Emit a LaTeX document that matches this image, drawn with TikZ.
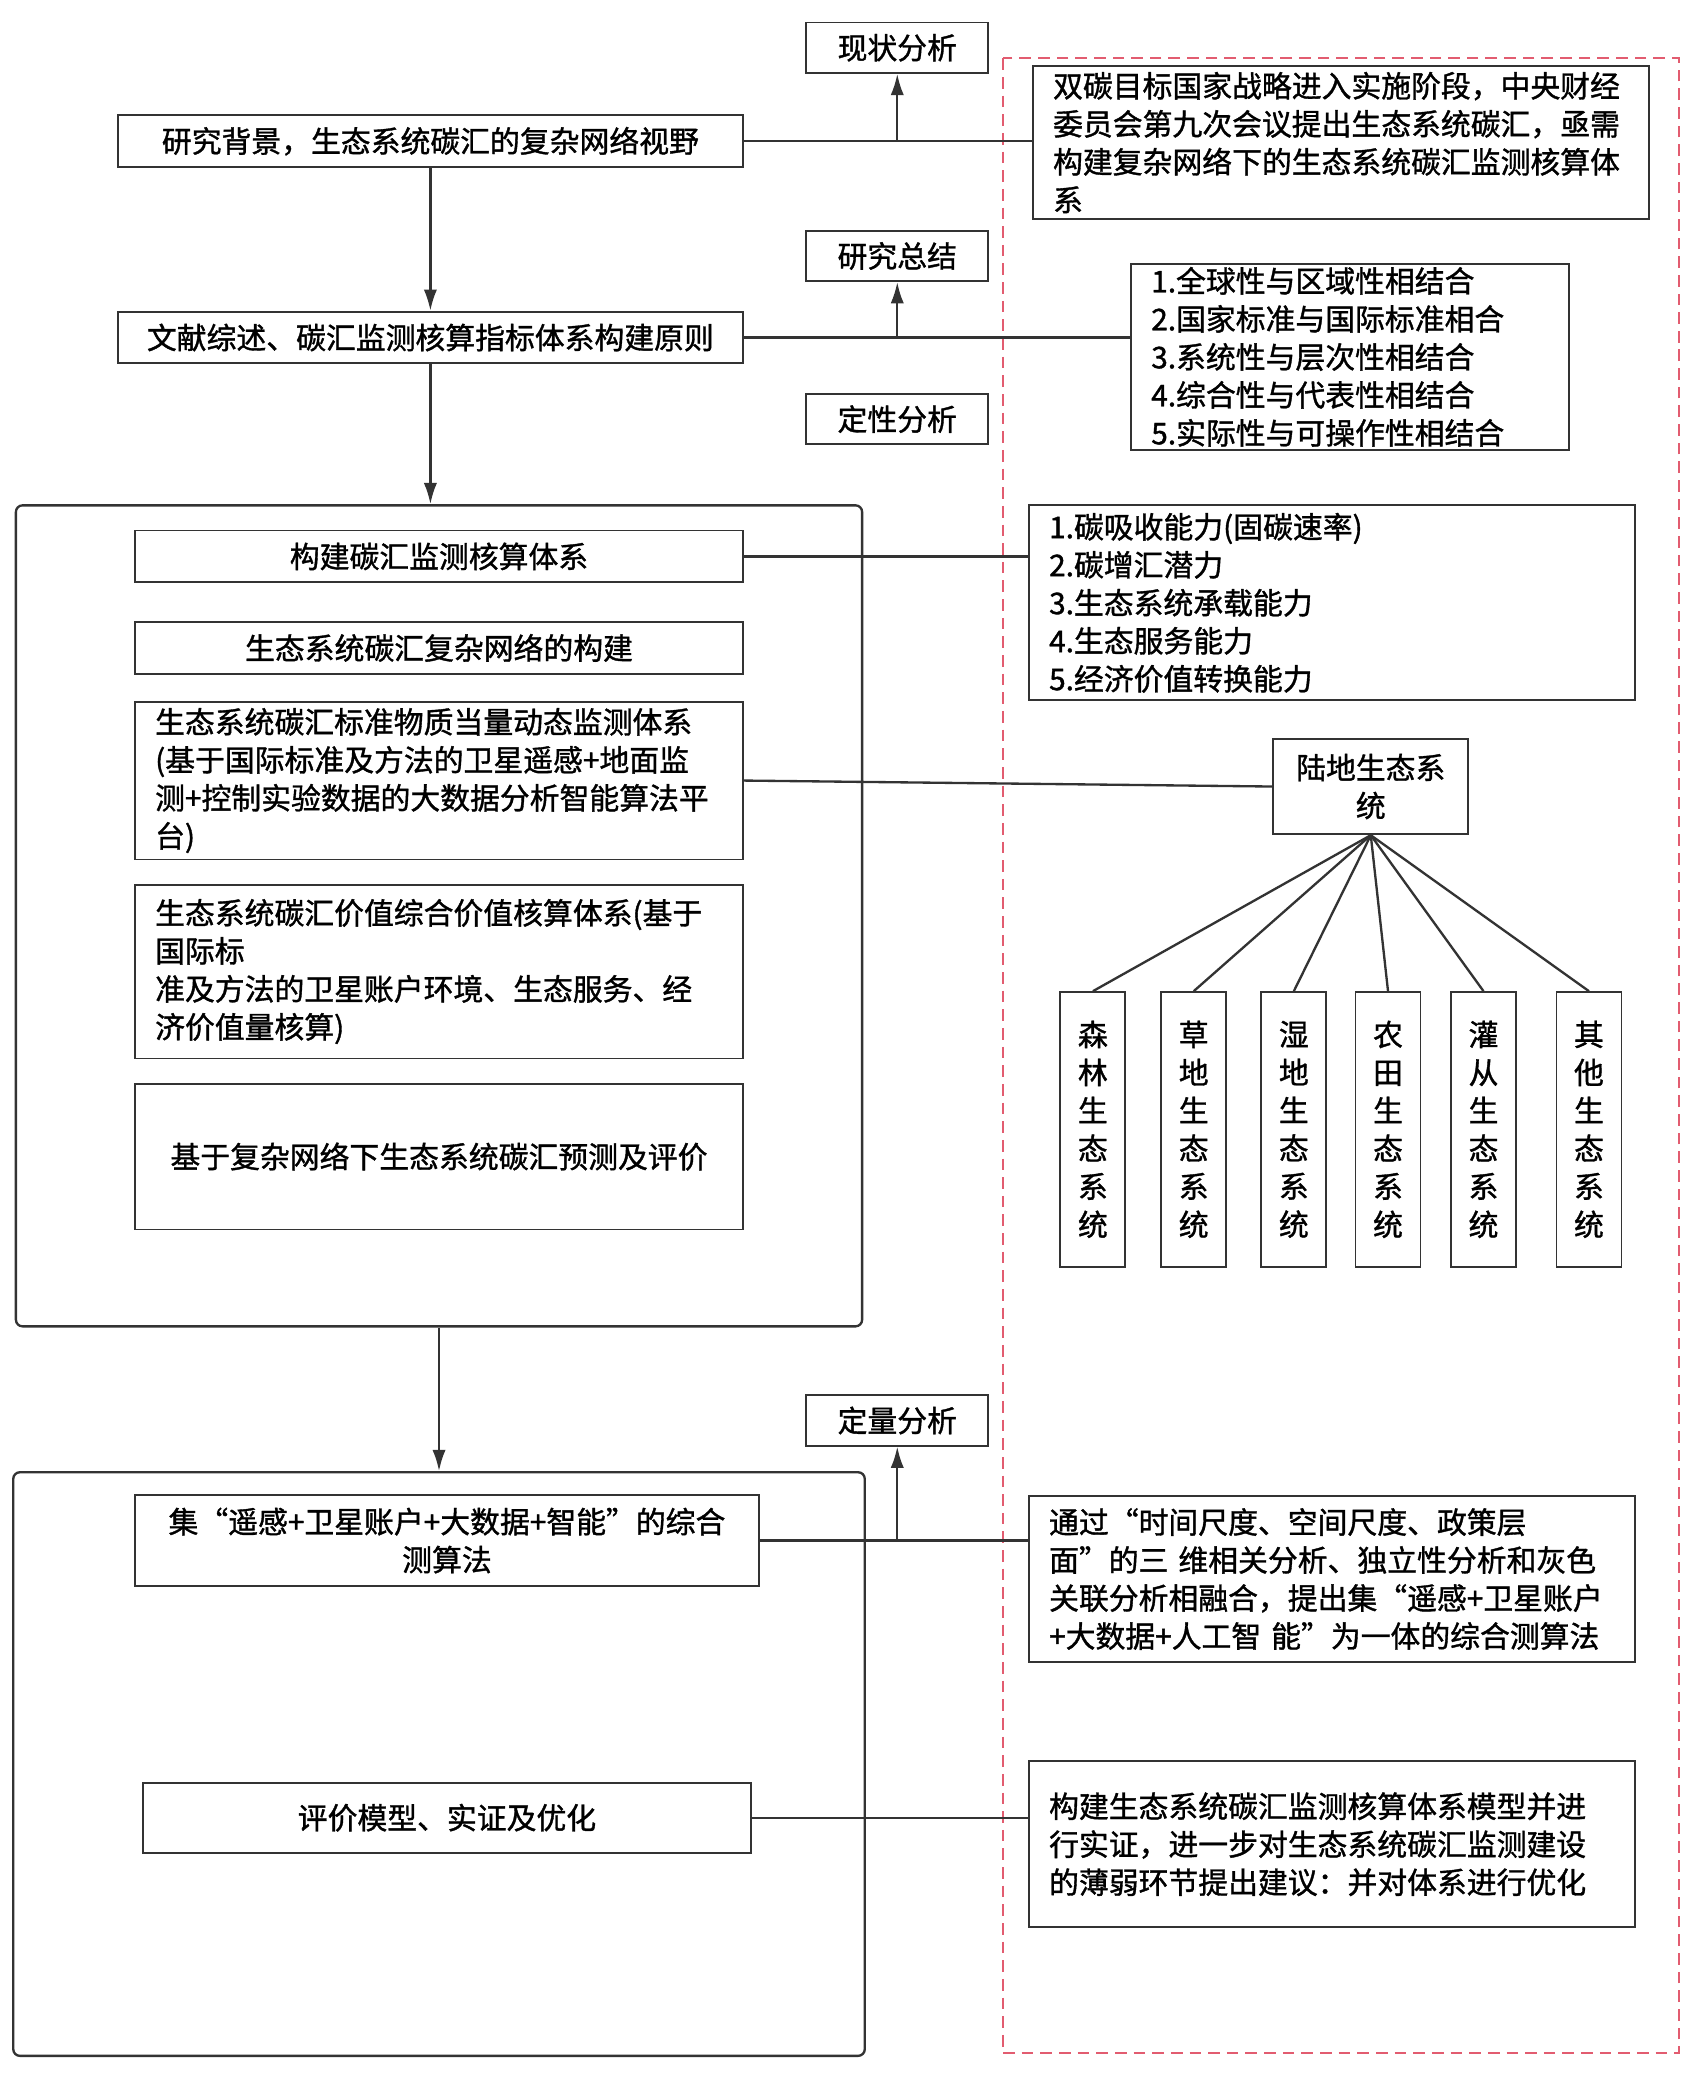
\documentclass[tikz,border=0pt]{standalone}
\usepackage{fontspec}
\setmainfont{Noto Sans CJK SC}[FakeBold=1.2]
\usetikzlibrary{arrows.meta}
\definecolor{dashred}{RGB}{226,92,112}
\definecolor{linegray}{RGB}{51,51,51}
\tikzset{
  box/.style={draw=linegray,line width=0.8pt,rectangle,inner sep=0pt,align=center},
  txtbox/.style={draw=linegray,line width=0.8pt,rectangle,inner xsep=3mm,inner ysep=0pt,align=left},
  frame/.style={draw=linegray,line width=1pt,rounded corners=1mm},
  link/.style={draw=linegray,line width=1pt},
  flow/.style={link,-{Latex[length=3.2mm,width=2mm]}},
}
\begin{document}
\begin{tikzpicture}[x=0.2mm,y=-0.2mm,font=\fontsize{12.8}{16.3}\selectfont]
\useasboundingbox (0,0) rectangle (1280,1572);
% dashed area on the right
\draw[dashred,line width=0.9pt,dash pattern=on 5pt off 3pt] (756,44) rectangle (1266,1548);
% left column
\node[box,minimum width=94.2mm,minimum height=7.8mm] (bg) at (324.5,106.5) {研究背景，生态系统碳汇的复杂网络视野};
\node[box,minimum width=94.2mm,minimum height=7.8mm] (lit) at (324.5,254.5) {文献综述、碳汇监测核算指标体系构建原则};
\node[frame,minimum width=127.6mm,minimum height=123.8mm] (sys) at (331,690.5) {};
\node[box,minimum width=91.6mm,minimum height=7.8mm] (build) at (331,419.5) {构建碳汇监测核算体系};
\node[box,minimum width=91.6mm,minimum height=7.8mm] (net) at (331,488.5) {生态系统碳汇复杂网络的构建};
\node[txtbox,text width=85.6mm,minimum height=23.8mm] (mon) at (331,588.5) {生态系统碳汇标准物质当量动态监测体系\\(基于国际标准及方法的卫星遥感+地面监\\测+控制实验数据的大数据分析智能算法平\\台)};
\node[txtbox,text width=85.6mm,minimum height=26.2mm] (val) at (331,732.5) {生态系统碳汇价值综合价值核算体系(基于\\国际标\\准及方法的卫星账户环境、生态服务、经\\济价值量核算)};
\node[box,minimum width=91.6mm,minimum height=22mm] (pred) at (331,872) {基于复杂网络下生态系统碳汇预测及评价};
\node[frame,minimum width=128.4mm,minimum height=88mm] (meth) at (331,1330) {};
\node[box,minimum width=94mm,minimum height=13.8mm] (calc) at (337,1161.5) {集“遥感+卫星账户+大数据+智能”的综合\\测算法};
\node[box,minimum width=91.6mm,minimum height=10.6mm] (eval) at (337,1370.5) {评价模型、实证及优化};
% middle labels
\node[box,minimum width=27.4mm,minimum height=7.6mm] (now) at (676.5,36) {现状分析};
\node[box,minimum width=27.4mm,minimum height=7.6mm] (sum) at (676.5,193) {研究总结};
\node[box,minimum width=27.4mm,minimum height=7.6mm] (qual) at (676.5,316) {定性分析};
\node[box,minimum width=27.4mm,minimum height=7.6mm] (quan) at (676.5,1071) {定量分析};
% right column
\node[txtbox,text width=86.8mm,minimum height=23mm] (why) at (1011,107.5) {双碳目标国家战略进入实施阶段，中央财经\\委员会第九次会议提出生态系统碳汇，亟需\\构建复杂网络下的生态系统碳汇监测核算体\\系};
\node[txtbox,text width=60mm,minimum height=28mm] (rule) at (1018,269) {1.全球性与区域性相结合\\2.国家标准与国际标准相合\\3.系统性与层次性相结合\\4.综合性与代表性相结合\\5.实际性与可操作性相结合};
\node[txtbox,text width=85.4mm,minimum height=29.4mm] (ind) at (1004.5,454.5) {1.碳吸收能力(固碳速率)\\2.碳增汇潜力\\3.生态系统承载能力\\4.生态服务能力\\5.经济价值转换能力};
\node[box,minimum width=29.4mm,minimum height=14.4mm] (land) at (1033.5,593) {陆地生态系\\统};
\foreach \n/\t/\x in {forest/森\\林/824,grass/草\\地/900,wet/湿\\地/975.5,farm/农\\田/1046.5,shrub/灌\\从/1118.5,other/其\\他/1198}{
  \node[box,minimum width=9.8mm,minimum height=41.4mm] (\n) at (\x,851.5) {\t\\生\\态\\系\\统};
  \draw[link] (land.south) -- (\n.north);
}
\node[txtbox,text width=85.4mm,minimum height=25mm] (how) at (1004.5,1190.5) {通过“时间尺度、空间尺度、政策层\\面”的三 维相关分析、独立性分析和灰色\\关联分析相融合，提出集“遥感+卫星账户\\+大数据+人工智 能”为一体的综合测算法};
\node[txtbox,text width=85.4mm,minimum height=25mm] (opt) at (1004.5,1390.5) {构建生态系统碳汇监测核算体系模型并进\\行实证，进一步对生态系统碳汇监测建设\\的薄弱环节提出建议：并对体系进行优化};
% connectors
\draw[flow] (bg.south) -- (lit.north);
\draw[flow] (lit.south) -- (lit.south |- sys.north);
\draw[flow] (sys.south) -- (meth.north);
\draw[link] (bg.east) -- (bg.east -| why.west);
\draw[flow] (now.south |- bg.east) -- (now.south);
\draw[link] (lit.east) -- (lit.east -| rule.west);
\draw[flow] (sum.south |- lit.east) -- (sum.south);
\draw[link] (build.east) -- (build.east -| ind.west);
\draw[link] (mon.east) -- (land.west);
\draw[link] (calc.east) -- (calc.east -| how.west);
\draw[flow] (quan.south |- calc.east) -- (quan.south);
\draw[link] (eval.east) -- (eval.east -| opt.west);
\end{tikzpicture}
\end{document}
